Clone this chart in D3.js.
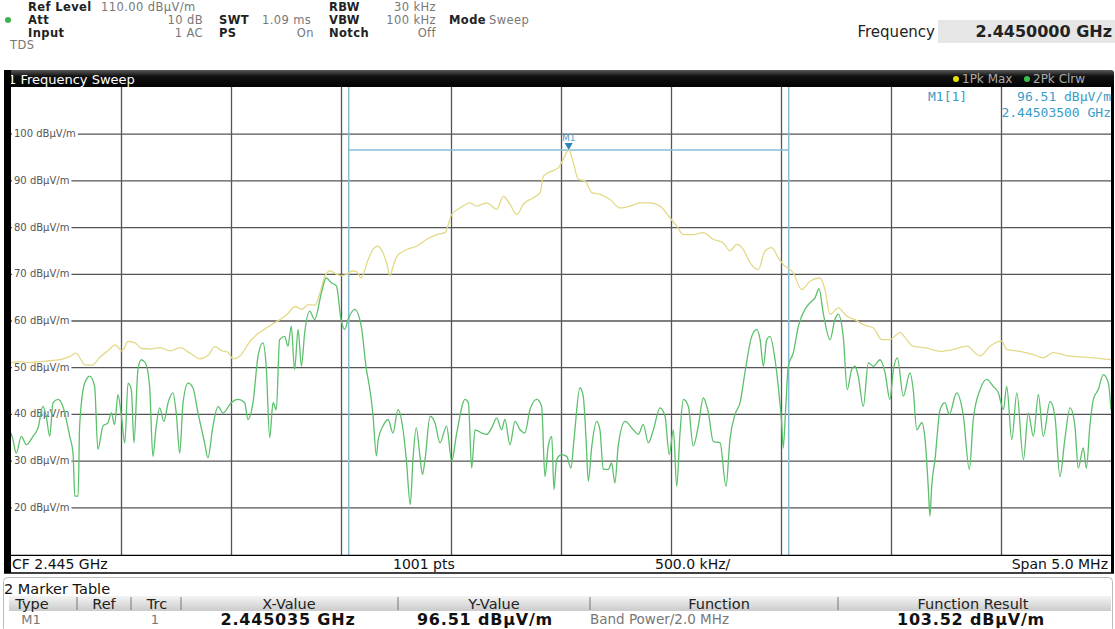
<!DOCTYPE html>
<html><head><meta charset="utf-8">
<script src="https://cdn.jsdelivr.net/npm/d3@7/dist/d3.min.js"></script>
<style>
html,body{margin:0;padding:0;background:#fff;}
svg{display:block;font-family:"DejaVu Sans",sans-serif;}
</style></head>
<body>
<svg id="c" width="1115" height="629"></svg>
<script>
// ---- data (frequency offset from CF in kHz, level in dBµV/m) ----
const maxFreq = [-2500,-2459,-2414,-2345,-2277,-2232,-2205,-2164,-2132,-2095,-2059,-2027,-1995,-1968,-1936,-1905,-1868,-1823,-1777,-1732,-1686,-1641,-1605,-1573,-1541,-1514,-1491,-1459,-1414,-1377,-1345,-1314,-1277,-1241,-1209,-1177,-1150,-1118,-1095,-1073,-1050,-1023,-1000,-977,-950,-927,-909,-877,-850,-832,-809,-791,-777,-764,-745,-701,-656,-610,-565,-527,-497,-459,-414,-383,-338,-292,-262,-232,-201,-171,-126,-95,-80,-42,-12,10,35,56,79,109,140,177,223,268,314,359,405,450,495,526,556,601,647,692,738,768,799,829,859,897,927,958,988,1010,1056,1094,1132,1177,1200,1223,1260,1299,1336,1374,1420,1458,1495,1541,1571,1601,1662,1723,1783,1844,1905,1950,2003,2026,2086,2147,2192,2237,2298,2359,2419,2500];
const maxVal = [51.0,51.2,51.0,51.3,51.6,52.3,53.0,50.5,50.4,52.2,53.5,54.8,53.5,55.5,55.2,54.0,53.9,54.2,53.5,54.2,53.0,51.8,52.5,54.4,53.5,53.2,51.8,52.4,55.5,57.2,58.2,59.2,60.2,61.5,63.0,62.4,63.4,63.3,66.0,69.5,70.6,70.0,69.6,69.8,70.6,70.4,69.1,73.0,75.5,75.9,74.5,72.0,69.6,71.5,73.8,75.2,75.9,77.4,78.4,78.8,82.7,84.1,85.2,84.5,85.2,83.8,86.6,84.9,82.7,84.9,86.3,87.4,90.9,92.0,92.7,94.5,96.51,93.8,90.2,89.9,87.4,87.0,85.9,84.1,84.5,85.2,85.2,84.5,82.0,80.2,78.4,78.4,78.8,77.4,76.6,74.9,76.3,75.2,72.4,70.9,74.9,75.6,73.4,72.0,70.2,66.6,68.4,69.1,66.6,61.3,62.7,60.9,60.2,59.1,58.4,55.9,55.9,57.4,55.9,54.5,54.1,53.4,53.8,54.5,52.4,54.5,55.6,53.8,53.4,52.7,52.0,53.1,52.5,52.2,52.0,51.6];

const clrwFreq = [-2500,-2491,-2476,-2453,-2430,-2400,-2377,-2355,-2340,-2324,-2309,-2286,-2264,-2233,-2218,-2210,-2195,-2188,-2165,-2142,-2120,-2105,-2082,-2059,-2044,-2029,-2014,-1998,-1983,-1968,-1953,-1941,-1923,-1908,-1889,-1870,-1855,-1840,-1824,-1805,-1786,-1764,-1749,-1733,-1718,-1695,-1673,-1650,-1620,-1605,-1582,-1559,-1536,-1499,-1468,-1438,-1423,-1400,-1377,-1355,-1340,-1324,-1309,-1294,-1279,-1256,-1241,-1226,-1211,-1195,-1180,-1165,-1142,-1120,-1089,-1067,-1044,-1021,-999,-983,-968,-938,-908,-886,-868,-855,-839,-831,-809,-786,-764,-741,-718,-703,-685,-673,-658,-641,-630,-618,-595,-573,-550,-520,-497,-474,-436,-421,-406,-391,-360,-338,-315,-292,-270,-255,-232,-209,-186,-164,-141,-110,-88,-73,-58,-42,-32,-20,3,26,45,59,86,101,114,124,140,162,177,192,215,230,245,260,291,329,351,374,397,420,450,473,492,511,526,541,556,579,601,624,647,670,692,723,750,768,791,814,836,867,890,905,920,935,950,973,992,1003,1010,1021,1033,1056,1079,1109,1132,1155,1173,1192,1223,1245,1260,1283,1301,1321,1336,1351,1374,1397,1420,1450,1473,1495,1511,1529,1556,1586,1601,1617,1640,1655,1670,1677,1685,1700,1723,1745,1765,1798,1829,1856,1874,1905,1935,1965,1988,2011,2026,2049,2072,2102,2124,2147,2170,2192,2223,2245,2268,2290,2314,2336,2351,2374,2388,2404,2420,2442,2465,2488,2500];
const clrwVal = [35.9,34.5,31.6,35.2,33.4,35.2,37.0,41.6,39.5,35.2,42.4,43.1,41.6,35.2,31.6,22.4,22.4,37.4,46.6,48.1,45.9,32.4,37.4,38.1,40.2,37.7,44.1,39.5,33.8,46.6,45.2,33.8,49.5,51.6,50.9,45.9,30.9,37.4,41.3,38.4,42.4,44.5,40.2,31.6,42.4,46.6,45.6,40.2,33.8,30.6,37.4,41.6,40.2,42.4,43.1,42.4,38.8,42.4,52.4,55.2,50.2,34.9,42.4,40.9,55.9,56.6,54.5,58.8,49.5,58.1,50.2,57.4,62.0,60.2,65.9,69.1,68.1,67.4,60.0,58.1,60.2,62.4,58.8,50.0,45.0,40.0,31.0,34.5,37.4,38.8,35.9,40.9,36.6,30.2,20.6,30.2,37.0,30.9,27.0,30.2,39.5,38.1,33.8,37.4,29.9,35.9,43.1,42.4,28.4,36.6,35.9,35.6,37.0,39.1,36.6,38.8,33.4,38.4,36.6,35.9,40.9,43.1,41.6,26.6,33.1,35.2,23.8,30.2,31.3,30.9,28.4,34.5,45.6,43.8,34.5,25.6,33.1,38.4,36.6,28.1,28.1,29.5,25.2,33.1,38.4,36.6,35.6,37.7,33.8,36.6,41.3,39.5,31.3,36.6,24.5,35.9,43.1,41.6,33.1,37.4,43.4,40.2,34.1,33.8,24.5,34.5,39.9,42.4,48.8,56.6,58.1,55.9,50.2,55.9,56.6,51.6,43.8,38.1,32.7,40.9,50.2,53.1,58.8,62.4,63.8,64.9,66.8,61.6,55.9,60.2,61.3,56.6,45.2,49.5,50.2,48.1,41.6,50.9,50.2,51.6,48.8,43.1,49.5,52.0,43.8,48.8,45.2,36.6,38.1,34.5,23.8,18.1,24.5,30.2,40.9,42.4,39.9,44.5,39.5,28.1,38.8,45.2,47.4,45.9,44.5,40.9,45.9,34.5,44.5,30.2,40.2,35.2,44.1,35.2,42.7,39.5,26.6,34.5,41.3,37.4,28.4,32.7,28.4,37.4,43.1,45.2,48.4,46.6,40.9];

const yTicks = [20,30,40,50,60,70,80,90,100];
const xGridTicks = [-2000,-1500,-1000,-500,0,500,1000,1500,2000];
const markerFreq = 35;      // kHz offset -> 2.445035 GHz
const markerLevel = 96.51;
const bandHalfWidth = 1000; // kHz (Band Power / 2.0 MHz)

// ---- layout ----
const svg = d3.select("#c");
const L = 11, R = 1111, T = 87, B = 555;
const x = d3.scaleLinear().domain([-2500, 2500]).range([L, R]);
const y = d3.scaleLinear().domain([10, 110]).range([554, 87]);

// defs
const defs = svg.append("defs");
const g1 = defs.append("linearGradient").attr("id","bar").attr("x1",0).attr("x2",0).attr("y1",0).attr("y2",1);
g1.append("stop").attr("offset","0%").attr("stop-color","#5a5a5a");
g1.append("stop").attr("offset","35%").attr("stop-color","#111");
g1.append("stop").attr("offset","100%").attr("stop-color","#000");
const g2 = defs.append("linearGradient").attr("id","hdr").attr("x1",0).attr("x2",0).attr("y1",0).attr("y2",1);
g2.append("stop").attr("offset","0%").attr("stop-color","#f4f4f4");
g2.append("stop").attr("offset","100%").attr("stop-color","#cbcbcb");

// ---- top header ----
svg.append("rect").attr("x", 938).attr("y", 20).attr("width", 177).attr("height", 23).attr("fill", "#e6e6e6");
const hd = svg.append("g").attr("font-size", 11.5).attr("letter-spacing", 0.4);
function t(xp, yp, s, opt={}) {
  return hd.append("text").attr("x", xp).attr("y", yp).text(s)
    .attr("fill", opt.fill || "#777")
    .attr("font-weight", opt.bold ? "bold" : null)
    .attr("text-anchor", opt.anchor || "start")
    .attr("font-size", opt.size || null)
    .attr("letter-spacing", opt.ls != null ? opt.ls : null);
}
const dark = "#222";
const r1 = 11, r2 = 24, r3 = 37;
t(28, r1, "Ref Level", {bold:true, fill:dark});
t(101, r1, "110.00 dBµV/m");
t(329, r1, "RBW", {bold:true, fill:dark});
t(436, r1, "30 kHz", {anchor:"end"});
hd.append("circle").attr("cx", 8).attr("cy", 20).attr("r", 3).attr("fill", "#3cb44b");
t(28, r2, "Att", {bold:true, fill:dark});
t(203, r2, "10 dB", {anchor:"end"});
t(219, r2, "SWT", {bold:true, fill:dark});
t(262, r2, "1.09 ms");
t(329, r2, "VBW", {bold:true, fill:dark});
t(436, r2, "100 kHz", {anchor:"end"});
t(449, r2, "Mode", {bold:true, fill:dark});
t(489, r2, "Sweep");
t(28, r3, "Input", {bold:true, fill:dark});
t(203, r3, "1 AC", {anchor:"end"});
t(219, r3, "PS", {bold:true, fill:dark});
t(314, r3, "On", {anchor:"end"});
t(329, r3, "Notch", {bold:true, fill:dark});
t(436, r3, "Off", {anchor:"end"});
t(10, 49, "TDS");

t(935, 37, "Frequency", {anchor:"end", fill:"#222", size:15, ls:0});
t(1112, 37, "2.4450000 GHz", {anchor:"end", fill:"#222", size:16, bold:true, ls:0});

// ---- title bar ----
svg.append("rect").attr("x", 4).attr("y", 70).attr("width", 1110).attr("height", 18).attr("rx", 3).attr("fill", "url(#bar)");
svg.append("text").attr("x", 8).attr("y", 84).attr("fill", "#fff").attr("font-size", 13).text("1 Frequency Sweep");
svg.append("circle").attr("cx", 956).attr("cy", 79).attr("r", 3).attr("fill", "#e8e000");
svg.append("text").attr("x", 962).attr("y", 83).attr("fill", "#aaa").attr("font-size", 12).text("1Pk Max");
svg.append("circle").attr("cx", 1027).attr("cy", 79).attr("r", 3).attr("fill", "#3cc04a");
svg.append("text").attr("x", 1033).attr("y", 83).attr("fill", "#aaa").attr("font-size", 12).text("2Pk Clrw");

// ---- plot area ----
svg.append("rect").attr("x", L).attr("y", T).attr("width", R - L).attr("height", B - T).attr("fill", "#fff");

// vertical grid via axis
svg.append("g").attr("transform", `translate(0,${B})`)
  .call(d3.axisBottom(x).tickValues(xGridTicks).tickSize(-(B - T)).tickFormat(""))
  .call(g => g.select(".domain").remove())
  .call(g => g.selectAll("line").attr("stroke", "#555").attr("stroke-width", 1.3));

// horizontal grid via axis
svg.append("g").attr("transform", `translate(${L},0)`)
  .call(d3.axisRight(y).tickValues(yTicks).tickSize(R - L).tickFormat(""))
  .call(g => g.select(".domain").remove())
  .call(g => g.selectAll("line").attr("stroke", "#555").attr("stroke-width", 1.3));

// band-power lines
const bandColor = "#86bcd6";
[markerFreq - bandHalfWidth, markerFreq + bandHalfWidth].forEach(f => {
  svg.append("line").attr("x1", x(f)).attr("x2", x(f)).attr("y1", T).attr("y2", B)
    .attr("stroke", bandColor).attr("stroke-width", 1.5);
});
svg.append("line").attr("x1", x(markerFreq - bandHalfWidth)).attr("x2", x(markerFreq + bandHalfWidth))
  .attr("y1", y(markerLevel)).attr("y2", y(markerLevel)).attr("stroke", bandColor).attr("stroke-width", 1.5);

// y labels (white background, grid line starts after label)
const ylab = svg.append("g").attr("font-size", 10).attr("fill", "#555");
yTicks.forEach(v => {
  const tx = ylab.append("text").attr("x", 14).attr("y", y(v) + 3.5).text(v + " dBµV/m");
  const w = tx.node().getComputedTextLength();
  ylab.insert("rect", "text").attr("x", L + 1).attr("y", y(v) - 3).attr("width", w + 4).attr("height", 6).attr("fill", "#fff");
});

// traces
const line = d3.line().x(d => x(d[0])).y(d => y(d[1])).curve(d3.curveMonotoneX);
const maxData = maxFreq.map((f, i) => [f, maxVal[i]]);
const clrwData = clrwFreq.map((f, i) => [f, clrwVal[i]]);
svg.append("path").datum(maxData).attr("d", line).attr("fill", "none")
  .attr("stroke", "#e3d987").attr("stroke-width", 1.3);
svg.append("path").datum(clrwData).attr("d", line).attr("fill", "none")
  .attr("stroke", "#5cc06c").attr("stroke-width", 1.3);

// marker
const mx = x(markerFreq), my = y(markerLevel);
svg.append("path").attr("d", `M${mx - 4},${my - 7} L${mx + 4},${my - 7} L${mx},${my} Z`).attr("fill", "#2a86b8");
svg.append("text").attr("x", mx).attr("y", my - 9).attr("text-anchor", "middle").attr("font-size", 9)
  .attr("fill", "#4aa0cc").text("M1");

// readout
const ro = svg.append("g").attr("font-size", 13).attr("fill", "#3a9cc8").attr("font-family", "DejaVu Sans Mono, monospace");
ro.append("text").attr("x", 928).attr("y", 101).text("M1[1]");
ro.append("text").attr("x", 1111).attr("y", 101).attr("text-anchor", "end").text(markerLevel.toFixed(2) + " dBµV/m");
ro.append("text").attr("x", 1111).attr("y", 117).attr("text-anchor", "end").text("2.44503500 GHz");

// borders
svg.append("rect").attr("x", 4).attr("y", 70).attr("width", 7).attr("height", 503).attr("fill", "#000");
svg.append("rect").attr("x", 1111).attr("y", 85).attr("width", 3).attr("height", 488).attr("fill", "#000");
svg.append("line").attr("x1", 4).attr("x2", 1114).attr("y1", B + 0.5).attr("y2", B + 0.5).attr("stroke", "#000").attr("stroke-width", 1.5);
svg.append("line").attr("x1", 4).attr("x2", 1114).attr("y1", 573).attr("y2", 573).attr("stroke", "#000").attr("stroke-width", 1.5);

// bottom info row
const bi = svg.append("g").attr("font-size", 14).attr("fill", "#111");
bi.append("rect").attr("x", 11).attr("y", 556).attr("width", 1100).attr("height", 16).attr("fill", "#fff");
bi.append("text").attr("x", 12).attr("y", 569).text("CF 2.445 GHz");
bi.append("text").attr("x", 393).attr("y", 569).text("1001 pts");
bi.append("text").attr("x", 655).attr("y", 569).text("500.0 kHz/");
bi.append("text").attr("x", 1108).attr("y", 569).attr("text-anchor", "end").text("Span 5.0 MHz");

// marker table
const mt = svg.append("g");
mt.append("rect").attr("x", 3.5).attr("y", 577.5).attr("width", 1109).attr("height", 55).attr("rx", 4)
  .attr("fill", "#fff").attr("stroke", "#bbb");
mt.append("text").attr("x", 4).attr("y", 594).attr("font-size", 14.5).attr("fill", "#111").text("2 Marker Table");
mt.append("rect").attr("x", 9).attr("y", 596).attr("width", 1102).attr("height", 15).attr("fill", "url(#hdr)");
const cols = [
  {x: 32, txt: "Type"}, {x: 104, txt: "Ref"}, {x: 157, txt: "Trc"},
  {x: 289, txt: "X-Value"}, {x: 494, txt: "Y-Value"}, {x: 719, txt: "Function"}, {x: 973, txt: "Function Result"}
];
[77, 131, 181, 398, 590, 838].forEach(d => {
  mt.append("line").attr("x1", d).attr("x2", d).attr("y1", 597).attr("y2", 610).attr("stroke", "#777");
});
cols.forEach(c => mt.append("text").attr("x", c.x).attr("y", 609).attr("text-anchor", "middle")
  .attr("font-size", 14.5).attr("fill", "#222").text(c.txt));
mt.append("text").attr("x", 31).attr("y", 624).attr("text-anchor", "middle").attr("font-size", 13).attr("fill", "#777").text("M1");
mt.append("text").attr("x", 155).attr("y", 624).attr("text-anchor", "middle").attr("font-size", 13).attr("fill", "#777").text("1");
const bold = (xp, s) => mt.append("text").attr("x", xp).attr("y", 625).attr("text-anchor", "middle")
  .attr("font-size", 16).attr("font-weight", "bold").attr("letter-spacing", 0.8).attr("fill", "#111").text(s);
bold(288, "2.445035 GHz");
bold(485, markerLevel.toFixed(2) + " dBµV/m");
bold(971, "103.52 dBµV/m");
mt.append("text").attr("x", 590).attr("y", 624).attr("font-size", 13.5).attr("fill", "#777").text("Band Power/2.0 MHz");
</script>
</body></html>
